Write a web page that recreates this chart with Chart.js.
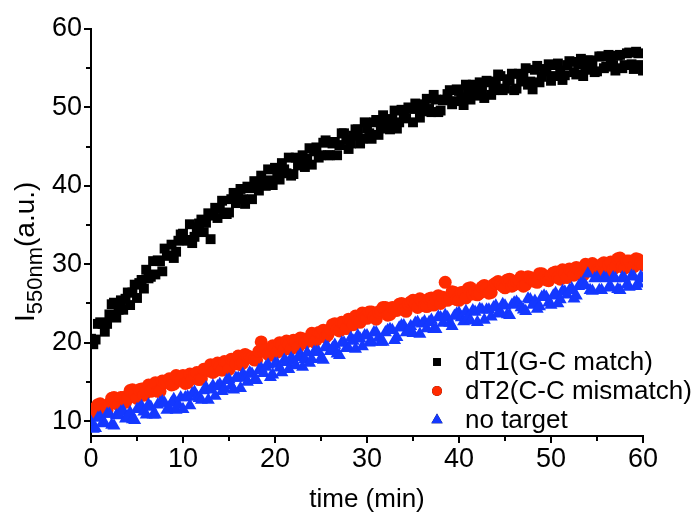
<!DOCTYPE html>
<html>
<head>
<meta charset="utf-8">
<script src="https://cdn.jsdelivr.net/npm/chart.js@4.4.1/dist/chart.umd.min.js"></script>
<style>
html,body{margin:0;padding:0;background:#fff;}
#wrap{width:696px;height:515px;}
</style>
</head>
<body>
<div id="wrap"><canvas id="c" width="696" height="515"></canvas></div>
<script>
// sampling times (min), two interleaved read-outs
const times = [0,0.5,1,1.5,2,2.5,3,3.5,4,4.5,5,5.5,6,6.5,7,7.5,8,8.5,9,9.5,10,10.5,11,11.5,12,12.5,13,13.5,14,14.5,15,15.5,16,16.5,17,17.5,18,18.5,19,19.5,20,20.5,21,21.5,22,22.5,23,23.5,24,24.5,25,25.5,26,26.5,27,27.5,28,28.5,29,29.5,30,30.5,31,31.5,32,32.5,33,33.5,34,34.5,35,35.5,36,36.5,37,37.5,38,38.5,39,39.5,40,40.5,41,41.5,42,42.5,43,43.5,44,44.5,45,45.5,46,46.5,47,47.5,48,48.5,49,49.5,50,50.5,51,51.5,52,52.5,53,53.5,54,54.5,55,55.5,56,56.5,57,57.5,58,58.5,59,59.5,60];
const timesB = [0.25,0.75,1.25,1.75,2.25,2.75,3.25,3.75,4.25,4.75,5.25,5.75,6.25,6.75,7.25,7.75,8.25,8.75,9.25,9.75,10.25,10.75,11.25,11.75,12.25,12.75,13.25,13.75,14.25,14.75,15.25,15.75,16.25,16.75,17.25,17.75,18.25,18.75,19.25,19.75,20.25,20.75,21.25,21.75,22.25,22.75,23.25,23.75,24.25,24.75,25.25,25.75,26.25,26.75,27.25,27.75,28.25,28.75,29.25,29.75,30.25,30.75,31.25,31.75,32.25,32.75,33.25,33.75,34.25,34.75,35.25,35.75,36.25,36.75,37.25,37.75,38.25,38.75,39.25,39.75,40.25,40.75,41.25,41.75,42.25,42.75,43.25,43.75,44.25,44.75,45.25,45.75,46.25,46.75,47.25,47.75,48.25,48.75,49.25,49.75,50.25,50.75,51.25,51.75,52.25,52.75,53.25,53.75,54.25,54.75,55.25,55.75,56.25,56.75,57.25,57.75,58.25,58.75,59.25,59.75];

const dT1 = [20.5,20.4,22.6,21.4,23.6,25.1,24.2,24.2,26.4,26.4,
25.7,28.0,29.3,28.4,28.7,30.4,32.0,31.1,30.8,33.0,
33.9,33.0,32.7,34.7,35.7,35.3,33.2,37.2,37.1,36.4,
36.6,39.1,38.6,38.3,39.9,38.3,40.4,41.3,40.0,40.7,
42.3,40.8,42.1,43.6,41.5,42.6,43.9,43.5,42.7,44.9,
43.9,45.8,43.9,45.6,45.2,46.7,44.7,46.4,47.2,46.0,
47.3,46.0,48.4,47.3,48.5,47.2,49.6,48.1,48.9,50.0,
48.1,49.9,49.5,51.1,49.4,51.0,49.6,51.0,52.2,50.8,
52.1,50.3,52.1,52.9,51.5,52.2,53.4,51.6,53.3,54.0,
52.4,53.4,52.2,54.3,54.1,52.9,52.3,55.3,53.9,54.9,
53.4,55.4,54.7,54.1,55.9,54.5,55.5,54.0,56.0,55.5,
54.6,56.5,55.2,56.3,54.7,56.7,55.4,57.0,54.9,56.9,
54.7];
const dT1B = [19.8,22.4,22.4,22.4,24.9,23.2,25.4,25.6,24.8,27.4,
27.6,26.9,28.2,30.4,30.5,29.1,31.1,32.5,31.6,33.8,
33.1,35.1,33.5,35.2,34.1,36.5,36.2,35.9,38.1,36.4,
38.3,37.8,39.6,37.7,39.7,40.6,39.4,40.3,42.1,40.1,
41.8,42.9,41.6,41.3,43.6,43.3,42.4,44.8,44.4,43.6,
45.5,43.9,45.4,43.9,46.7,45.9,45.4,47.2,45.4,48.1,
46.7,48.1,46.5,49.0,47.5,48.5,47.3,49.7,48.6,49.8,
50.5,48.7,50.4,49.8,51.6,49.4,50.9,51.7,50.4,52.3,
51.3,52.9,51.0,52.3,53.2,51.2,53.2,52.2,54.2,52.2,
53.6,54.3,52.4,53.3,55.0,53.3,54.8,53.2,54.6,55.5,
54.0,55.6,53.5,55.4,55.8,54.2,56.2,54.8,56.0,54.5,
56.5,55.0,56.7,55.4,56.6,55.0,56.9,55.5,57.1,55.4];

const dT2 = [11.5,11.2,12.2,11.5,12.2,13.0,12.1,13.0,12.9,14.0,
12.9,14.1,13.9,13.8,14.9,13.8,14.9,15.4,14.7,15.4,
15.8,14.9,15.4,16.2,15.4,16.6,17.2,16.4,16.9,17.6,
16.6,17.7,18.3,17.4,18.3,18.1,17.8,20.1,19.1,18.4,
19.3,20.0,19.1,19.7,20.3,19.4,20.5,20.2,21.2,20.4,
21.3,20.7,21.7,22.4,21.5,22.5,23.0,22.3,22.8,23.8,
23.1,23.9,23.0,24.1,24.5,23.6,24.2,24.9,24.2,24.9,
25.4,24.5,25.2,24.6,25.7,25.5,25.0,27.7,25.6,26.4,
25.4,26.4,26.9,26.2,26.1,27.1,26.9,26.4,27.6,27.5,
27.0,28.1,27.4,28.0,27.2,28.4,28.0,27.7,28.8,28.0,
28.6,29.0,28.1,28.8,29.4,28.6,29.4,28.6,29.8,30.1,
29.2,30.0,29.1,30.3,29.6,30.8,29.5,30.4,29.7,30.6,
29.9];
const dT2B = [10.9,12.1,11.9,11.4,12.9,12.3,13.0,12.4,13.9,13.4,
14.0,13.3,14.6,14.1,13.8,15.1,15.0,14.6,15.8,15.2,
14.8,16.0,15.9,15.3,16.6,16.4,16.2,17.4,16.5,17.5,
17.9,17.3,17.2,18.5,18.2,17.8,18.9,18.9,18.5,19.6,
18.8,19.7,20.2,19.2,20.1,20.6,20.0,20.6,20.1,21.3,
21.6,21.0,22.3,21.7,22.6,21.8,22.8,23.4,22.6,23.2,
23.9,23.3,23.9,24.5,23.5,24.5,24.1,25.0,24.0,25.2,
24.9,25.6,24.7,25.6,24.8,26.0,25.8,25.4,26.5,25.5,
26.4,25.7,27.0,26.5,26.3,27.3,26.3,27.4,27.8,27.2,
28.0,27.2,27.8,28.4,27.4,28.3,27.8,28.8,28.3,27.9,
28.9,28.3,29.3,28.3,29.1,29.6,28.8,30.0,29.2,29.8,
29.1,30.2,29.9,29.4,30.7,29.7,30.4,29.6,30.7,30.2];

const noTarget = [9.9,9.1,10.5,9.7,10.9,9.4,10.8,11.3,10.6,10.2,
11.5,11.9,10.8,11.8,10.8,12.3,12.3,11.6,12.8,12.1,
11.5,13.1,13.5,13.1,12.7,14.3,14.0,13.2,14.7,14.1,
15.3,14.0,15.5,16.0,15.0,16.0,15.2,16.7,16.9,15.6,
17.3,16.8,17.8,16.6,17.7,18.1,16.9,18.7,17.9,18.8,
18.0,19.5,18.9,19.7,18.4,20.0,19.3,20.2,20.9,19.5,
20.9,20.1,21.3,20.1,21.3,21.7,20.3,21.9,22.2,21.6,
21.2,22.6,22.4,21.8,22.9,21.7,23.2,23.5,22.5,23.4,
23.8,22.7,23.3,24.1,22.6,24.2,24.2,23.3,24.7,23.9,
24.7,23.5,25.1,24.9,24.2,25.6,24.8,24.3,25.8,25.8,
24.8,26.3,25.5,26.5,26.7,25.6,27.2,27.6,28.8,26.6,
28.3,26.7,28.2,27.1,28.2,26.7,28.2,27.1,28.4,27.5,
28.2];
const noTargetB = [9.0,10.4,9.8,10.9,9.5,10.7,11.2,10.3,11.1,10.1,
11.6,11.2,12.1,10.8,12.1,12.5,11.4,12.3,11.4,13.0,
13.0,12.0,13.7,12.9,13.9,12.7,14.5,14.4,13.8,15.2,
14.5,15.5,14.2,15.6,16.2,15.2,16.5,16.1,17.2,15.9,
17.3,16.2,17.5,18.0,17.1,18.5,17.9,17.4,18.8,18.8,
17.8,19.4,19.3,18.6,20.0,19.3,20.6,19.2,20.5,20.9,
20.0,21.3,20.6,20.1,21.6,21.6,20.7,22.2,21.3,22.1,
22.5,21.1,22.7,22.6,21.7,23.3,22.5,23.2,22.1,23.7,
23.2,24.0,22.8,23.9,24.3,22.9,24.2,24.5,23.7,24.9,
23.6,24.8,25.2,24.5,24.0,25.5,25.3,24.6,26.0,25.1,
26.0,25.0,26.6,26.1,26.9,26.0,27.5,27.3,26.7,28.2,
26.7,28.3,27.0,28.3,26.8,28.3,27.4,28.5,27.2,28.4];

const seriesNames = ['dT1(G-C match)', 'dT2(C-C mismatch)', 'no target'];
const xTickValues = [0,10,20,30,40,50,60];
const yTickValues = [10,20,30,40,50,60];
const xMinorTicks = [5,15,25,35,45,55];
const yMinorTicks = [15,25,35,45,55];

const FONT = "'Liberation Sans', Arial, sans-serif";
Chart.defaults.font.family = FONT;
Chart.defaults.color = '#000';

const pts = (ys, ysB) => times.map((t, i) => ({x: t, y: ys[i]}))
  .concat(timesB.map((t, i) => ({x: t, y: ysB[i]})))
  .sort((a, b) => a.x - b.x);

const minorTicks = {
  id: 'minorTicks',
  afterDraw(chart) {
    const ctx = chart.ctx, xs = chart.scales.x, ys = chart.scales.y;
    const a = chart.chartArea;
    ctx.save();
    ctx.strokeStyle = '#000';
    ctx.lineWidth = 2;
    ctx.beginPath();
    xMinorTicks.forEach(v => { const p = Math.round(xs.getPixelForValue(v)); ctx.moveTo(p, a.bottom); ctx.lineTo(p, a.bottom + 5); });
    yMinorTicks.forEach(v => { const p = Math.round(ys.getPixelForValue(v)); ctx.moveTo(a.left, p); ctx.lineTo(a.left - 5, p); });
    ctx.stroke();
    ctx.restore();
  }
};

const yTitle = {
  id: 'yTitle',
  afterDraw(chart) {
    const ctx = chart.ctx;
    ctx.save();
    ctx.fillStyle = '#000';
    ctx.translate(34, 322);
    ctx.rotate(-Math.PI / 2);
    ctx.textBaseline = 'alphabetic';
    ctx.textAlign = 'left';
    ctx.font = '28px ' + FONT;
    ctx.fillText('I', 0, 0);
    let w = ctx.measureText('I').width;
    ctx.font = '22px ' + FONT;
    ctx.fillText('550nm', w, 8);
    w += ctx.measureText('550nm').width;
    ctx.font = '28px ' + FONT;
    ctx.fillText('(a.u.)', w, 0);
    ctx.restore();
  }
};

const innerLegend = {
  id: 'innerLegend',
  afterDraw(chart) {
    const ctx = chart.ctx;
    const rows = [362, 391, 420];
    ctx.save();
    chart.data.datasets.forEach((ds, i) => {
      Chart.helpers.drawPoint(ctx, {pointStyle: ds.pointStyle, radius: ds.legendRadius, rotation: 0, borderWidth: 0}, 437, rows[i]);
      ctx.fillStyle = ds.backgroundColor;
      ctx.fill();
      ctx.fillStyle = '#000';
      ctx.font = '26px ' + FONT;
      ctx.textBaseline = 'middle';
      ctx.textAlign = 'left';
      ctx.fillText(ds.label, 465, rows[i] + 1);
    });
    ctx.restore();
  }
};

new Chart(document.getElementById('c'), {
  type: 'scatter',
  data: {
    datasets: [
      {label: seriesNames[0], data: pts(dT1, dT1B), pointStyle: 'rect', pointRadius: 7, legendRadius: 5.5,
       backgroundColor: '#000000', borderColor: '#000000', borderWidth: 0, order: 0, clip: 0},
      {label: seriesNames[1], data: pts(dT2, dT2B), pointStyle: 'circle', pointRadius: 6.5, legendRadius: 5,
       backgroundColor: '#ff2a00', borderColor: '#ff2a00', borderWidth: 0, order: 2, clip: 0},
      {label: seriesNames[2], data: pts(noTarget, noTargetB), pointStyle: 'triangle', pointRadius: 7.5, legendRadius: 6.5,
       backgroundColor: '#1438ff', borderColor: '#1438ff', borderWidth: 0, order: 1, clip: 0}
    ]
  },
  options: {
    responsive: false,
    animation: false,
    layout: {padding: {left: 0, right: 53, top: 29, bottom: 0}},
    plugins: {legend: {display: false}, tooltip: {enabled: false}},
    scales: {
      x: {
        type: 'linear', min: 0, max: 60,
        afterBuildTicks: (s) => { s.ticks = xTickValues.map(v => ({value: v})); },
        afterFit: (s) => { s.height = 79; },
        grid: {display: true, drawOnChartArea: false, drawTicks: true, tickLength: 7, tickWidth: 2, tickColor: '#000', color: '#000', lineWidth: 2},
        border: {display: true, color: '#000', width: 2},
        ticks: {font: {size: 27}, color: '#000', padding: 0, maxRotation: 0},
        title: {display: true, text: 'time (min)', font: {size: 26}, color: '#000', padding: {top: 0, bottom: 0}}
      },
      y: {
        type: 'linear', min: 8.1, max: 60,
        afterBuildTicks: (s) => { s.ticks = yTickValues.map(v => ({value: v})); },
        afterFit: (s) => { s.width = 91; },
        grid: {display: true, drawOnChartArea: false, drawTicks: true, tickLength: 7, tickWidth: 2, tickColor: '#000', color: '#000', lineWidth: 2},
        border: {display: true, color: '#000', width: 2},
        ticks: {font: {size: 27}, color: '#000', padding: 2}
      }
    }
  },
  plugins: [minorTicks, yTitle, innerLegend]
});
</script>
</body>
</html>
